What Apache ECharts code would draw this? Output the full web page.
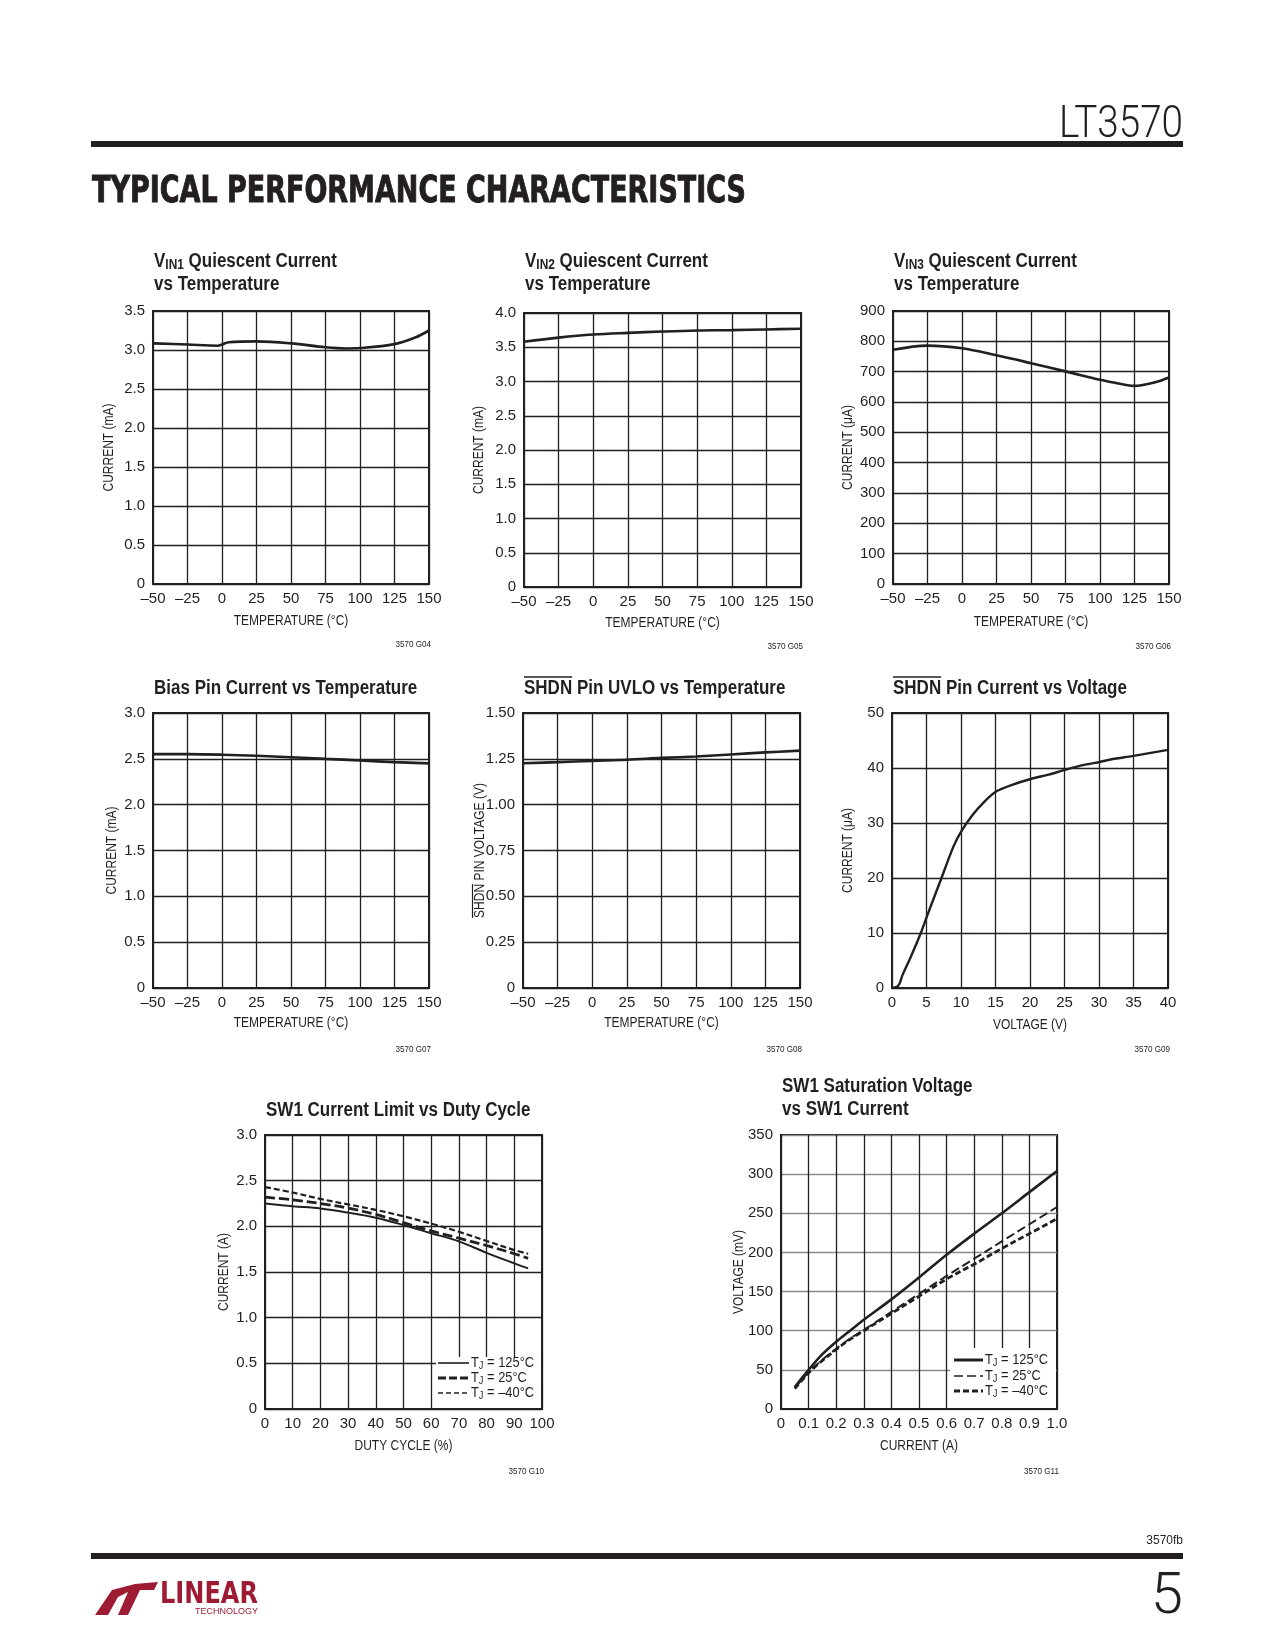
<!DOCTYPE html>
<html><head><meta charset="utf-8">
<script src="https://cdn.jsdelivr.net/npm/echarts@6/dist/echarts.min.js"></script>
<style>html,body{margin:0;padding:0;background:#fff}#c{width:1275px;height:1650px}</style>
</head><body><div id="c"></div>
<script>
// ---------------- DATA ----------------
const tempTicks = [-50,-25,0,25,50,75,100,125,150];

const g04Temp    = [-50,-25,-3,0,5,25,50,75,90,100,125,140,150];
const g04Current = [3.085,3.07,3.055,3.07,3.10,3.11,3.085,3.035,3.02,3.025,3.075,3.16,3.25];

const g05Temp    = [-50,-25,0,25,50,75,100,125,150];
const g05Current = [3.58,3.64,3.685,3.71,3.73,3.745,3.75,3.76,3.77];

const g06Temp    = [-50,-25,0,25,50,75,100,110,120,125,130,140,150];
const g06Current = [772,786,777,754,728,701,673,664,655,653,655,665,681];

const g07Temp    = [-50,-25,0,25,50,75,100,125,150];
const g07Current = [2.551,2.551,2.545,2.533,2.518,2.50,2.482,2.464,2.45];

const g08Temp    = [-50,-25,0,25,50,75,100,125,150];
const g08Voltage = [1.226,1.232,1.239,1.245,1.255,1.263,1.274,1.285,1.295];

const g09Voltage = [0,0.7,1.1,1.5,2.7,4.15,5.2,7.05,8.9,10.1,11.7,13.4,15.2,17.3,20.1,22.7,25.2,28,30.1,31.5,35,40];
const g09Current = [0,0.2,0.8,2.3,5.6,9.9,13.5,19.6,25.7,28.6,31.5,33.9,35.8,36.9,38.0,38.8,39.7,40.6,41.1,41.5,42.2,43.3];

const g10Duty   = [0,10,20,30,40,50,60,70,80,90,95];
const g10Tj125  = [2.25,2.22,2.195,2.15,2.095,2.015,1.925,1.835,1.71,1.595,1.54];
const g10Tj25   = [2.32,2.29,2.25,2.20,2.13,2.04,1.95,1.87,1.79,1.70,1.65];
const g10TjM40  = [2.43,2.37,2.30,2.24,2.18,2.11,2.03,1.94,1.84,1.74,1.70];

const g11Current = [0.05,0.1,0.15,0.2,0.25,0.3,0.4,0.5,0.6,0.7,0.8,0.9,1.0];
const g11Tj125   = [28,50,70,86,100,114,140,168,197,224,250,277,304];
const g11Tj25    = [27,47,63,77,90,101,124,147,170,192,214,236,258];
const g11TjM40   = [26,46,62,76,89,100,122,144,166,185,205,224,243];

const titles = [
  [['V','b'],['IN1','s'],[' Quiescent Current','b'],['\n'],['vs Temperature','b']],
  [['V','b'],['IN2','s'],[' Quiescent Current','b'],['\n'],['vs Temperature','b']],
  [['V','b'],['IN3','s'],[' Quiescent Current','b'],['\n'],['vs Temperature','b']],
  [['Bias Pin Current vs Temperature','b']],
  [['SHDN Pin UVLO vs Temperature','b']],
  [['SHDN Pin Current vs Voltage','b']],
  [['SW1 Current Limit vs Duty Cycle','b']],
  [['SW1 Saturation Voltage','b'],['\n'],['vs SW1 Current','b']]
];
const yNames = ['CURRENT (mA)','CURRENT (mA)','CURRENT (\u03bcA)','CURRENT (mA)','SHDN PIN VOLTAGE (V)','CURRENT (\u03bcA)','CURRENT (A)','VOLTAGE (mV)'];
const xNames = ['TEMPERATURE (\u00b0C)','TEMPERATURE (\u00b0C)','TEMPERATURE (\u00b0C)','TEMPERATURE (\u00b0C)','TEMPERATURE (\u00b0C)','VOLTAGE (V)','DUTY CYCLE (%)','CURRENT (A)'];
const codes = ['3570 G04','3570 G05','3570 G06','3570 G07','3570 G08','3570 G09','3570 G10','3570 G11'];
const legendLabels = ['125\u00b0C','25\u00b0C','\u201340\u00b0C'];

// ---------------- LAYOUT ----------------
const INK = '#231f20';
const FONT = '"Liberation Sans Narrow","Arial Narrow","Liberation Sans",sans-serif';
const P = [
  {l:153,t:311,r:429,b:584},
  {l:524,t:313,r:801,b:587},
  {l:893,t:311,r:1169,b:584},
  {l:153,t:713,r:429,b:988},
  {l:523,t:713,r:800,b:988},
  {l:892,t:713,r:1168,b:988},
  {l:265,t:1135,r:542,b:1409},
  {l:781,t:1135,r:1057,b:1409}
];
const axes = [
  {x:[-50,150,25], y:[0,3.5,0.5], yd:1},
  {x:[-50,150,25], y:[0,4,0.5], yd:1},
  {x:[-50,150,25], y:[0,900,100], yd:0},
  {x:[-50,150,25], y:[0,3,0.5], yd:1},
  {x:[-50,150,25], y:[0,1.5,0.25], yd:2},
  {x:[0,40,5], y:[0,50,10], yd:0},
  {x:[0,100,10], y:[0,3,0.5], yd:1},
  {x:[0,1,0.1], y:[0,350,50], yd:0, xd:1, hGray:true}
];
const titleY = [[261,284],[261,284],[261,284],[688],[688],[688],[1110],[1086,1109]];
const xNameY = [621,623,622,1023,1023,1025,1446,1446];
const yNameX = [109,479,848,112,480,848,224,739];
const codeY  = [645,647,647,1050,1050,1050,1472,1472];
const TSX = 0.85;   // title horizontal condensing
const NSX = 0.8;    // axis-name condensing

const ctx = document.createElement('canvas').getContext('2d');
function measure(t, font){ ctx.font = font; return ctx.measureText(t).width; }
function fmt(v, d){ if (Math.abs(v) < 1e-9) return '0'; const s = d ? v.toFixed(d) : String(Math.round(v)); return v < 0 ? '\u2013' + s.replace('-','') : s; }

const grids = [], xAxes = [], yAxes = [];
P.forEach((p, i) => {
  const a = axes[i];
  grids.push({left:p.l, top:p.t, width:p.r-p.l, height:p.b-p.t, show:true, borderColor:INK, borderWidth:2, backgroundColor:'rgba(0,0,0,0)'});
  xAxes.push({type:'value', gridIndex:i, min:a.x[0], max:a.x[1], interval:a.x[2],
    axisLine:{show:true, onZero:false, lineStyle:{color:INK, width:2}}, axisTick:{show:false},
    splitLine:{show:true, lineStyle:{color:INK, width:1.3}},
    axisLabel:{margin:7, fontFamily:FONT, fontSize:15, color:INK, formatter:v=>fmt(v, a.xd||0)}});
  yAxes.push({type:'value', gridIndex:i, min:a.y[0], max:a.y[1], interval:a.y[2],
    axisLine:{show:true, onZero:false, lineStyle:{color:INK, width:2}}, axisTick:{show:false},
    splitLine:{show:true, lineStyle:{color:a.hGray ? '#8a8a8a' : INK, width:1.3}},
    axisLabel:{margin:8, fontFamily:FONT, fontSize:15, color:INK, formatter:v=>fmt(v, a.yd)}});
});

function pairs(xs, ys){ return xs.map((x, k) => [x, ys[k]]); }
function ser(i, xs, ys, width, dash, smooth){
  return {type:'line', xAxisIndex:i, yAxisIndex:i, data:pairs(xs, ys), showSymbol:false, smooth: smooth==null?0.35:smooth,
    lineStyle:{color:INK, width:width, type: dash || 'solid', cap:'butt'}, silent:true, z:3};
}
const series = [
  ser(0, g04Temp, g04Current, 2.6),
  ser(1, g05Temp, g05Current, 2.6),
  ser(2, g06Temp, g06Current, 2.6),
  ser(3, g07Temp, g07Current, 2.6),
  ser(4, g08Temp, g08Voltage, 2.6),
  ser(5, g09Voltage, g09Current, 2.4, null, 0.25),
  ser(6, g10Duty, g10Tj125, 2.0),
  ser(6, g10Duty, g10Tj25, 2.8, [10,4]),
  ser(6, g10Duty, g10TjM40, 2.2, [6,3]),
  ser(7, g11Current, g11Tj125, 2.6),
  ser(7, g11Current, g11Tj25, 2.0, [9,4]),
  ser(7, g11Current, g11TjM40, 2.8, [6,3])
];

// ---------------- GRAPHICS ----------------
const G = [];
const rich = {
  b:{font:'bold 20px '+FONT, fill:INK, lineHeight:23, verticalAlign:'middle'},
  s:{font:'bold 14px '+FONT, fill:INK, lineHeight:10, verticalAlign:'bottom'},
  n:{font:'14px '+FONT, fill:INK, lineHeight:16, verticalAlign:'middle'},
  ns:{font:'10px '+FONT, fill:INK, lineHeight:8, verticalAlign:'bottom'}
};
function text(x, y, t, font, align, extra){
  return Object.assign({type:'text', x:x, y:y, z:20, style:{text:t, font:font, fill:INK, align:align||'left', verticalAlign:'middle'}}, extra||{});
}
function line(x1,y1,x2,y2,w,dash){ return {type:'line', z:21, shape:{x1,y1,x2,y2}, style:{stroke:INK, lineWidth:w, lineDash:dash||null}}; }

titles.forEach((parts, i) => {
  const p = P[i];
  const lines = [[]];
  parts.forEach(pt => { if (pt[0] === '\n') lines.push([]); else lines[lines.length-1].push(pt); });
  lines.forEach((ln, k) => {
    const t = ln.map(pt => '{' + pt[1] + '|' + pt[0] + '}').join('');
    G.push({type:'text', x:p.l+1, y:titleY[i][k], z:20, scaleX:TSX, style:{text:t, rich:rich, align:'left', verticalAlign:'middle'}});
  });
  if (parts[0][0].indexOf('SHDN') === 0) {
    const w = measure('SHDN', 'bold 20px '+FONT) * TSX;
    G.push(line(p.l+1, titleY[i][0]-11, p.l+1+w, titleY[i][0]-11, 1.5));
  }
  const nameFont = '15px ' + FONT;
  G.push(text((p.l+p.r)/2, xNameY[i], xNames[i], nameFont, 'center', {scaleX:NSX}));
  const cy = (p.t+p.b)/2;
  G.push(text(yNameX[i], cy, yNames[i], nameFont, 'center', {rotation:Math.PI/2, scaleX:NSX}));
  if (yNames[i].indexOf('SHDN') === 0) {
    const W = measure(yNames[i], nameFont) * NSX, ws = measure('SHDN', nameFont) * NSX;
    const xo = yNameX[i] - 7.5;
    G.push(line(xo, cy + W/2, xo, cy + W/2 - ws, 1.2));
  }
  G.push(text(p.r+2, codeY[i], codes[i], '9px '+FONT, 'right', {scaleX:0.9}));
});

function legend(i, box, rows, lx1, lx2, styles){
  G.push({type:'rect', z:15, shape:box, style:{fill:'#fff'}});
  rows.forEach((ry, k) => {
    G.push(line(lx1, ry, lx2, ry, styles[k][0], styles[k][1]));
    G.push({type:'text', x:lx2+2, y:ry, z:20, scaleX:0.92, style:{text:'{n|T}{ns|J}{n| = ' + legendLabels[k] + '}', rich:rich, align:'left', verticalAlign:'middle'}});
  });
}
legend(6, {x:436, y:1357, width:105, height:51}, [1363,1378,1393], 438, 469, [[1.6,null],[2.8,[8,3]],[1.6,[5,3]]]);
legend(7, {x:950, y:1348, width:106, height:60}, [1360,1376,1391], 954, 983, [[3,null],[1.6,[9,4]],[3,[6,3]]]);

// page header / footer
G.push({type:'rect', z:20, shape:{x:91, y:141, width:1092, height:6}, style:{fill:INK}});
G.push({type:'rect', z:20, shape:{x:91, y:1553, width:1092, height:6}, style:{fill:INK}});
(function(){
  const hf = 'bold 38px "DejaVu Sans", sans-serif';
  const ht = 'TYPICAL PERFORMANCE CHARACTERISTICS';
  const sx = 654 / measure(ht, hf);
  G.push({type:'text', x:92, y:192, z:20, scaleX:sx, style:{text:ht, font:hf, fill:INK, stroke:INK, lineWidth:1, align:'left', verticalAlign:'middle'}});
  const lf = '300 44px Roboto, "Liberation Sans", sans-serif';
  const lsx = 124 / measure('LT3570', lf);
  G.push({type:'text', x:1183, y:126, z:20, scaleX:lsx, style:{text:'LT3570', font:lf, fill:INK, align:'right', verticalAlign:'middle'}});
  G.push(text(1183, 1541, '3570fb', '12px '+FONT, 'right'));
  const pf = '300 58px Roboto, "Liberation Sans", sans-serif';
  G.push({type:'text', x:1183, y:1598, z:20, style:{text:'5', font:pf, fill:INK, align:'right', verticalAlign:'middle'}});
  const red = '#9d1c33';
  G.push({type:'polygon', z:20, shape:{points:[[95,1615],[112,1590],[135,1584],[158,1582],[154,1590],[140,1590],[128,1615],[118,1615],[128,1592],[118,1597],[108,1615]]}, style:{fill:red}});
  const lg = 'bold 30px "DejaVu Sans", sans-serif';
  G.push({type:'text', x:160, y:1595, z:20, scaleX:98/measure('LINEAR', lg), style:{text:'LINEAR', font:lg, fill:red, align:'left', verticalAlign:'middle'}});
  G.push({type:'text', x:258, y:1612, z:20, style:{text:'TECHNOLOGY', font:'9px "Liberation Sans", sans-serif', fill:red, align:'right', verticalAlign:'middle'}});
})();

const chart = echarts.init(document.getElementById('c'), null, {renderer:'canvas', width:1275, height:1650});
chart.setOption({
  animation:false,
  backgroundColor:'#fff',
  grid:grids, xAxis:xAxes, yAxis:yAxes, series:series,
  graphic:{elements:G}
});
</script></body></html>
